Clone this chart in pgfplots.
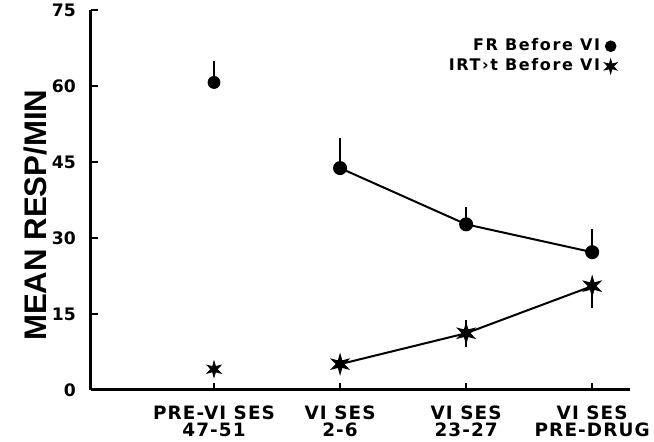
\documentclass[border=0pt]{standalone}
\usepackage{pgfplots}
\pgfplotsset{compat=1.18}
\usepackage{fontspec}
\setmainfont{Liberation Sans}
\newfontfamily\wide{DejaVu Sans}[LetterSpace=6]
\newfontfamily\legf{DejaVu Sans}[LetterSpace=10]
\newfontfamily\tickf{DejaVu Sans}
\newfontfamily\ylab{Liberation Sans}
\pgfdeclareplotmark{sixstar}{%
  \fill (90:\pgfplotmarksize) -- (120:0.38\pgfplotmarksize) -- (150:\pgfplotmarksize) -- (180:0.38\pgfplotmarksize)
   -- (210:\pgfplotmarksize) -- (240:0.38\pgfplotmarksize) -- (270:\pgfplotmarksize) -- (300:0.38\pgfplotmarksize)
   -- (330:\pgfplotmarksize) -- (0:0.38\pgfplotmarksize) -- (30:\pgfplotmarksize) -- (60:0.38\pgfplotmarksize) -- cycle;}
\begin{document}
\begin{tikzpicture}
\begin{axis}[
  scale only axis, width=269.5pt, height=190pt,
  xmin=-0.976, xmax=3.30, ymin=0, ymax=75,
  axis x line=bottom, axis y line=left,
  axis line style={line width=1.5pt,-},
  tick align=inside, major tick length=3.5pt,
  tick style={line width=1.2pt,black},
  xtick={0,1,2,3},
  xticklabels={PRE-VI SES\\47-51, VI SES\\2-6, VI SES\\23-27, VI SES\\PRE-DRUG},
  xticklabel style={align=center, font=\wide\bfseries\fontsize{9.2}{8.2}\selectfont, yshift=-4.5pt},
  ytick={0,15,30,45,60,75},
  yticklabel style={font=\tickf\bfseries\fontsize{8.6}{10}\selectfont, xshift=-4pt},
  /pgf/number format/assume math mode=true,
  clip=false,
  error bars/error mark=none,
  error bars/error bar style={line width=1pt},
  legend plot pos=right,
  legend cell align=right,
  legend style={at={(axis cs:3.25,71)}, anchor=north east, draw=none, fill=none,
     font=\legf\bfseries\fontsize{8}{9}\selectfont, row sep=-1.5pt,
     /tikz/every even column/.append style={column sep=2pt}},
]
\coordinate (O) at (rel axis cs:0,0);
% FR before VI
\addplot[forget plot, only marks, mark=*, mark size=3pt, black,
  error bars/.cd, y dir=plus, y explicit]
  coordinates {(0,60.7) += (0,4.2)};
\addplot[forget plot, line width=1pt, black, mark=*, mark size=3pt,
  error bars/.cd, y dir=plus, y explicit]
  coordinates {(1,43.8) += (0,5.9) (2,32.7) += (0,3.4) (3,27.2) += (0,4.6)};
% IRT>t before VI
\addplot[forget plot, only marks, mark=sixstar, mark size=4pt, black]
  coordinates {(0,4.1)};
\addplot[forget plot, line width=1pt, black, mark=sixstar, mark size=4pt,
  error bars/.cd, y dir=both, y explicit]
  coordinates {(1,5.1) +- (0,0) (2,11.2) +- (0,2.7) (3,20.5) += (0,1.5) -= (0,4.3)};
\addlegendimage{only marks, mark=*, mark size=2.7pt, black}
\addlegendentry{FR Before VI}
\addlegendimage{only marks, mark=sixstar, mark size=3.6pt, black}
\addlegendentry{IRT›t Before VI}
\node[rotate=90, font=\ylab\bfseries\fontsize{15.6}{18}\selectfont] at (axis cs:-1.42,34.5) {MEAN RESP/MIN};
\end{axis}
\pgfresetboundingbox
\path (O) ++(-45.5pt,-26pt) rectangle ++(327pt,221pt);
\end{tikzpicture}
\end{document}
